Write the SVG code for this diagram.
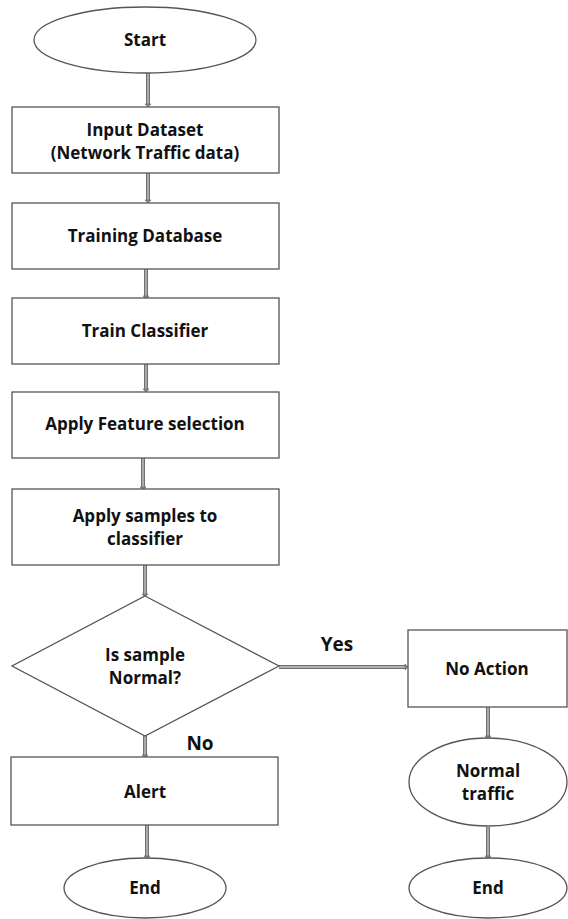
<svg xmlns="http://www.w3.org/2000/svg" width="568" height="919" viewBox="0 0 568 919">
<style>
.n{fill:#fff;stroke:#555;stroke-width:1.3}
.t{font-family:"Open Sans","Liberation Sans",sans-serif;font-weight:bold;font-size:17px;fill:#111;text-anchor:middle}
.lb{font-family:"Open Sans","Liberation Sans",sans-serif;font-weight:bold;font-size:19px;fill:#111;text-anchor:middle}
.so{fill:none;stroke:#707070;stroke-width:4}
.si{fill:none;stroke:#c4c4c4;stroke-width:1.4}
.ah{fill:#888;stroke:#666;stroke-width:0.6}
</style>
<rect width="568" height="919" fill="#fff"/>
<g id="connectors">
<path class="so" d="M148,73V104M148,173V200M146,269V296M146,364V389M143,458V487M145,565V594M145,736V755M147,825V856M279,667H405M488,707V736M488,827V856"/>
<path class="si" d="M148,73V104M148,173V200M146,269V296M146,364V389M143,458V487M145,565V594M145,736V755M147,825V856M279,667H405M488,707V736M488,827V856"/>
<path class="ah" d="M145,104h6l-3,3zM145,200h6l-3,3zM143,296h6l-3,3zM143,389h6l-3,3zM140,487h6l-3,3zM142,594h6l-3,3zM142,755h6l-3,3zM144,856h6l-3,3zM405,664v6l3,-3zM485,736h6l-3,3zM485,856h6l-3,3z"/>
</g>
<g id="start"><ellipse class="n" cx="145" cy="40" rx="111" ry="33"/><text class="t" x="145" y="46">Start</text></g>
<g id="input"><rect class="n" x="12" y="107" width="267" height="66"/><text class="t" x="145" y="136">Input Dataset</text><text class="t" x="145" y="159">(Network Traffic data)</text></g>
<g id="training"><rect class="n" x="12" y="203" width="267" height="66"/><text class="t" x="145" y="242">Training Database</text></g>
<g id="train"><rect class="n" x="12" y="298" width="267" height="66"/><text class="t" x="145" y="337">Train Classifier</text></g>
<g id="feature"><rect class="n" x="12" y="392" width="267" height="66"/><text class="t" x="145" y="430">Apply Feature selection</text></g>
<g id="apply"><rect class="n" x="12" y="489" width="267" height="76"/><text class="t" x="145" y="522">Apply samples to</text><text class="t" x="145" y="545">classifier</text></g>
<g id="decision"><polygon class="n" points="145,596 279,666 145,736 12,666"/><text class="t" x="145" y="661">Is sample</text><text class="t" x="145" y="684">Normal?</text></g>
<g id="alert"><rect class="n" x="11" y="757" width="267" height="68"/><text class="t" x="145" y="798">Alert</text></g>
<g id="end1"><ellipse class="n" cx="145" cy="888" rx="81" ry="30"/><text class="t" x="145" y="894">End</text></g>
<g id="noaction"><rect class="n" x="408" y="630" width="159" height="77"/><text class="t" x="487" y="675">No Action</text></g>
<g id="normal"><ellipse class="n" cx="488" cy="782" rx="79" ry="44"/><text class="t" x="488" y="777">Normal</text><text class="t" x="488" y="800">traffic</text></g>
<g id="end2"><ellipse class="n" cx="488" cy="888" rx="79" ry="30"/><text class="t" x="488" y="894">End</text></g>
<text class="lb" x="337" y="651">Yes</text>
<text class="lb" x="200" y="750">No</text>
</svg>
